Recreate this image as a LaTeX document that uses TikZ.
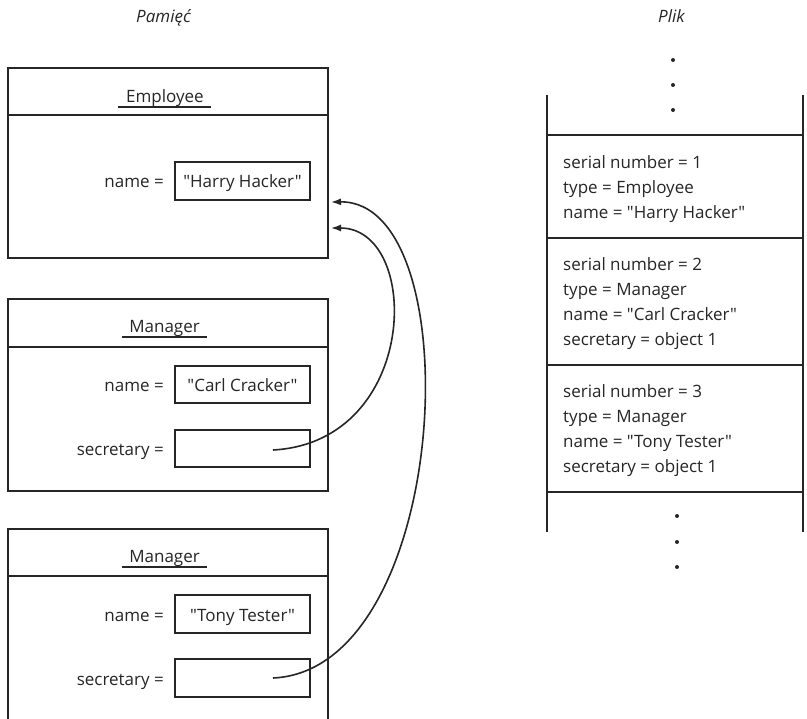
\documentclass[tikz,border=0pt]{standalone}
\usepackage{fontspec}
\setmainfont{Open Sans}[Ligatures=TeXOff]
\usetikzlibrary{arrows.meta}
\tikzset{
  frame/.style={line width=1.8pt, draw=black!85},
  valbox/.style={draw=black!85, line width=1.8pt, minimum width=135pt, minimum height=38pt, inner sep=0pt, anchor=center},
  txt/.style={inner sep=0pt, text=black!85},
  ptr/.style={line width=1.6pt, draw=black!85, -{Latex[length=10pt,width=7pt]}},
  dotc/.style={fill=black!85}
}
\begin{document}
\begin{tikzpicture}[x=1pt,y=-1pt,font=\fontsize{17}{21}\selectfont]
\useasboundingbox[fill=white] (0,0) rectangle (807,719);

% titles
\node[txt, anchor=base] (tmem) at (163.5,23) {\itshape Pamięć};
\node[txt, anchor=base] (tfile) at (671.5,23) {\itshape Plik};

% ===== Employee object
\draw[frame] (8,68) rectangle (328,258);
\draw[frame] (8,115) -- (328,115);
\node[txt, anchor=base] (hemp) at (165,103) {Employee};
\draw[line width=1.2pt, black!85] (118,107) -- (211,107);
\node[txt, anchor=base east] (lname1) at (164,188) {name =};
\node[valbox] (vname1) at (242.5,181) {};
\node[txt, anchor=base] (tname1) at (242.5,188) {"Harry Hacker"};

% ===== Manager 1
\draw[frame] (8,299) rectangle (328,491);
\draw[frame] (8,347) -- (328,347);
\node[txt, anchor=base] (hman1) at (164.5,333) {Manager};
\draw[line width=1.2pt, black!85] (122,337) -- (207,337);
\node[txt, anchor=base east] (lname2) at (164,391.5) {name =};
\node[valbox, minimum height=37pt] (vname2) at (242.5,384.5) {};
\node[txt, anchor=base] (tname2) at (242.5,391.5) {"Carl Cracker"};
\node[txt, anchor=base east] (lsec2) at (164,455.5) {secretary =};
\node[valbox, minimum height=37pt] (vsec2) at (242.5,448.5) {};
\coordinate (s2) at (273,450);

% ===== Manager 2 (cut off at the bottom)
\draw[frame] (8,719) -- (8,529) -- (328,529) -- (328,719);
\draw[frame] (8,576) -- (328,576);
\node[txt, anchor=base] (hman2) at (164.5,562) {Manager};
\draw[line width=1.2pt, black!85] (122,567) -- (207,567);
\node[txt, anchor=base east] (lname3) at (164,621) {name =};
\node[valbox] (vname3) at (242.5,614) {};
\node[txt, anchor=base] (tname3) at (242.5,621) {"Tony Tester"};
\node[txt, anchor=base east] (lsec3) at (164,685) {secretary =};
\node[valbox] (vsec3) at (242.5,678) {};
\coordinate (s3) at (273,678);

% arrow targets
\coordinate (a1) at (331,202);
\coordinate (a2) at (331,228);

\draw[ptr] (s3) .. controls (452,670) and (472,200) .. (a1);
\draw[ptr] (s2) .. controls (420,442) and (422,228) .. (a2);

% ===== File
\draw[frame] (547,95) -- (547,532);
\draw[frame] (803,95) -- (803,532);
\draw[frame] (547,135) -- (803,135);
\draw[frame] (547,238) -- (803,238);
\draw[frame] (547,365) -- (803,365);
\draw[frame] (547,492) -- (803,492);

\foreach \y in {60,85,110} \fill[dotc] (673,\y) circle (2);
\foreach \y in {516,542,567} \fill[dotc] (677,\y) circle (2);

\node[txt, anchor=base west] (f11) at (563,169) {serial number = 1};
\node[txt, anchor=base west] (f12) at (563,194) {type = Employee};
\node[txt, anchor=base west] (f13) at (563,219) {name = "Harry Hacker"};

\node[txt, anchor=base west] (f21) at (563,271) {serial number = 2};
\node[txt, anchor=base west] (f22) at (563,296) {type = Manager};
\node[txt, anchor=base west] (f23) at (563,321) {name = "Carl Cracker"};
\node[txt, anchor=base west] (f24) at (563,346) {secretary = object 1};

\node[txt, anchor=base west] (f31) at (563,398) {serial number = 3};
\node[txt, anchor=base west] (f32) at (563,423) {type = Manager};
\node[txt, anchor=base west] (f33) at (563,448) {name = "Tony Tester"};
\node[txt, anchor=base west] (f34) at (563,473) {secretary = object 1};
\end{tikzpicture}
\end{document}
